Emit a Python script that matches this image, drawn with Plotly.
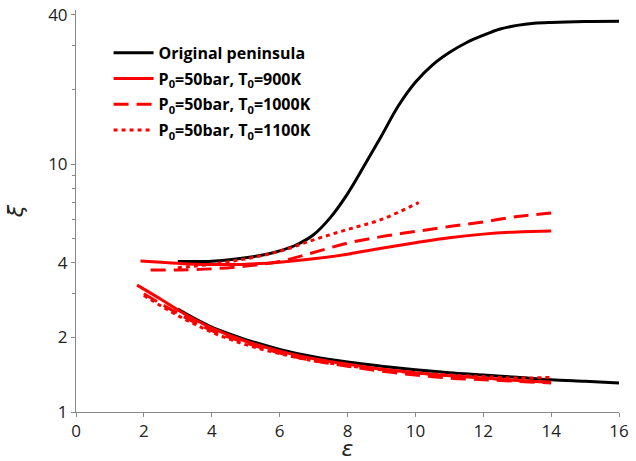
import plotly.graph_objects as go

# ---- data ----
orig_up_x = [3.0, 4.0, 5.0, 5.5, 6.0, 6.5, 7.0, 7.5, 8.0, 8.5, 9.0, 9.5, 10.0, 10.5, 11.0, 11.5, 12.0, 12.5, 13.0, 13.5, 14.0, 15.0, 16.0]
orig_up_y = [4.05, 4.06, 4.19, 4.30, 4.47, 4.73, 5.19, 6.10, 7.59, 9.89, 13.0, 17.2, 21.4, 25.1, 28.2, 30.9, 33.1, 35.1, 36.3, 37.0, 37.3, 37.6, 37.7]
orig_lo_x = [3.0, 3.5, 4.0, 4.5, 5.0, 6.0, 7.0, 8.0, 9.0, 10.0, 11.0, 12.0, 13.0, 14.0, 15.0, 16.0]
orig_lo_y = [2.6, 2.38, 2.2, 2.07, 1.96, 1.79, 1.67, 1.59, 1.53, 1.48, 1.44, 1.41, 1.38, 1.35, 1.33, 1.31]

t900_up_x = [1.9, 2.5, 3.0, 3.5, 4.0, 5.0, 6.0, 7.0, 8.0, 9.0, 10.0, 11.0, 12.0, 13.0, 14.0]
t900_up_y = [4.07, 4.02, 3.98, 3.95, 3.94, 3.95, 4.02, 4.15, 4.33, 4.58, 4.82, 5.05, 5.22, 5.33, 5.38]
t900_lo_x = [1.8, 2.5, 3.0, 3.5, 4.0, 5.0, 6.0, 7.0, 8.0, 9.0, 10.0, 11.0, 12.0, 13.0, 14.0]
t900_lo_y = [3.25, 2.85, 2.58, 2.36, 2.18, 1.93, 1.76, 1.64, 1.56, 1.49, 1.44, 1.40, 1.37, 1.34, 1.32]

t1000_up_x = [2.2, 3.0, 4.0, 5.0, 6.0, 7.0, 8.0, 9.0, 10.0, 11.0, 12.0, 13.0, 14.0]
t1000_up_y = [3.74, 3.74, 3.78, 3.88, 4.05, 4.4, 4.8, 5.1, 5.35, 5.6, 5.85, 6.15, 6.35]
t1000_lo_x = [2.0, 3.0, 4.0, 5.0, 6.0, 7.0, 8.0, 9.0, 10.0, 11.0, 12.0, 13.0, 14.0]
t1000_lo_y = [3.0, 2.5, 2.13, 1.9, 1.73, 1.61, 1.53, 1.46, 1.41, 1.37, 1.35, 1.33, 1.31]

t1100_up_x = [3.0, 4.0, 5.0, 6.0, 7.0, 8.0, 9.0, 10.1]
t1100_up_y = [3.82, 3.95, 4.15, 4.45, 4.95, 5.45, 5.98, 7.0]
t1100_lo_x = [2.0, 3.0, 4.0, 5.0, 6.0, 7.0, 8.0, 9.0, 10.0, 11.0, 12.0, 13.0, 14.0]
t1100_lo_y = [2.95, 2.45, 2.1, 1.87, 1.72, 1.61, 1.54, 1.48, 1.44, 1.41, 1.39, 1.37, 1.38]

names = ["Original peninsula",
         "P<sub>0</sub>=50bar, T<sub>0</sub>=900K",
         "P<sub>0</sub>=50bar, T<sub>0</sub>=1000K",
         "P<sub>0</sub>=50bar, T<sub>0</sub>=1100K"]

x_ticks = [0, 2, 4, 6, 8, 10, 12, 14, 16]
y_ticks = [1, 2, 4, 10, 40]
y_minor = [3, 5, 6, 7, 8, 9, 20, 30]

series = [
    (names[0], orig_up_x, orig_up_y, orig_lo_x, orig_lo_y, "black", "solid"),
    (names[1], t900_up_x, t900_up_y, t900_lo_x, t900_lo_y, "#ff0000", "solid"),
    (names[2], t1000_up_x, t1000_up_y, t1000_lo_x, t1000_lo_y, "#ff0000", "15px,8px"),
    (names[3], t1100_up_x, t1100_up_y, t1100_lo_x, t1100_lo_y, "#ff0000", "4px,4px"),
]

fig = go.Figure()
for i, (nm, ux, uy, lx, ly, col, dash) in enumerate(series):
    fig.add_trace(go.Scatter(x=ux, y=uy, mode="lines", name=nm, legendgroup=str(i),
                             line=dict(color=col, width=3, dash=dash, shape="spline", smoothing=1)))
    fig.add_trace(go.Scatter(x=lx, y=ly, mode="lines", name=nm, legendgroup=str(i), showlegend=False,
                             line=dict(color=col, width=3, dash=dash, shape="spline", smoothing=1)))

axis_font = dict(family="Open Sans, DejaVu Sans, sans-serif", size=17, color="#222")
fig.update_layout(
    width=636, height=461,
    margin=dict(l=76, r=17, t=10, b=49),
    plot_bgcolor="white", paper_bgcolor="white",
    showlegend=True,
    legend=dict(x=0.06, y=0.936, xanchor="left", yanchor="top", bgcolor="rgba(0,0,0,0)",
                font=dict(family="Open Sans, sans-serif", size=16, color="black", weight="bold"),
                tracegroupgap=2, itemwidth=40),
)
fig.update_xaxes(range=[0, 16], tickvals=x_ticks, ticktext=[str(v) for v in x_ticks], automargin=False,
                 showline=True, linecolor="#888", linewidth=1, ticks="outside", ticklen=4,
                 tickcolor="#888", showgrid=False, zeroline=False, tickfont=axis_font,
                 title=dict(text="<i>ε</i>", font=dict(family="DejaVu Sans, sans-serif", size=22, color="#222"), standoff=1))
fig.update_yaxes(type="log", range=[0, 1.622], tickvals=y_ticks, ticktext=[str(v) for v in y_ticks], automargin=False,
                 showline=True, linecolor="#888", linewidth=1, ticks="outside", ticklen=4,
                 tickcolor="#888", showgrid=False, zeroline=False, tickfont=axis_font,
                 ticklabeloverflow="allow",
                 minor=dict(tickvals=y_minor, ticks="outside", ticklen=3, tickcolor="#888", showgrid=False),
                 title=dict(text="<i>ξ</i>", font=dict(family="DejaVu Sans, sans-serif", size=22, color="#222"), standoff=18))

# remove the default 8px page margin so the 636x461 figure fills the window
fig.write_html("out.html", config={"displayModeBar": False},
               post_script="document.body.style.margin='0px';")
